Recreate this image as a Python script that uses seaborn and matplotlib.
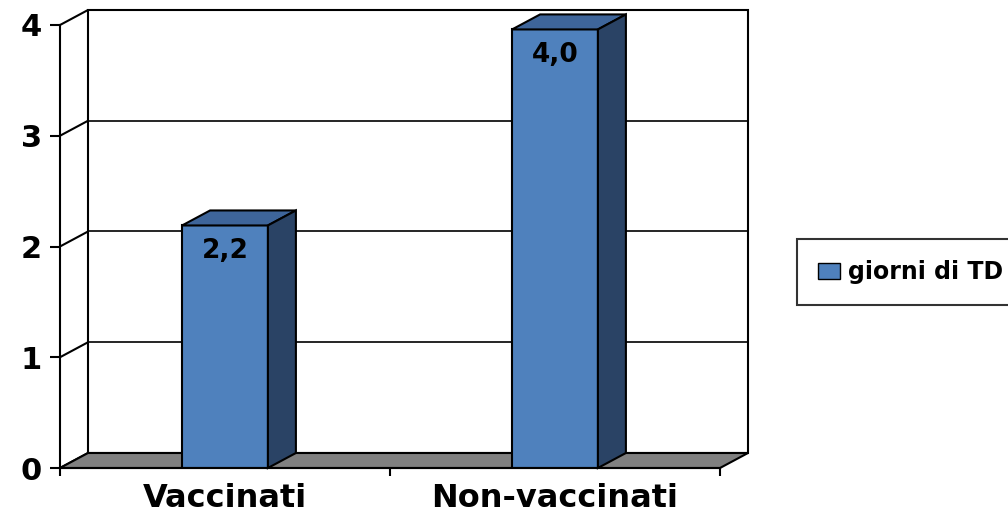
import matplotlib
matplotlib.use("Agg")
import matplotlib.pyplot as plt
from matplotlib.patches import Polygon, Rectangle, Patch
import seaborn as sns

# data
categories = ["Vaccinati", "Non-vaccinati"]
giorni_td = [2.19, 3.96]
value_labels = ["2,2", "4,0"]
y_ticks = [0, 1, 2, 3, 4]
series_name = "giorni di TD"

FRONT = "#4F81BD"
TOP = "#3E659A"
SIDE = "#2A4365"
FLOOR = "#808080"
LW = 1.5

sns.set_theme(style="white")
plt.rcParams["font.family"] = ["DejaVu Sans"]
plt.rcParams["text.color"] = "black"
plt.rcParams["xtick.labelcolor"] = "black"
plt.rcParams["ytick.labelcolor"] = "black"

fig = plt.figure(figsize=(10.08, 5.15), dpi=100)
ax = fig.add_axes([60 / 1008, 47 / 515, 660 / 1008, 443 / 515])

sns.barplot(x=categories, y=giorni_td, color=FRONT, width=0.26,
            edgecolor="black", linewidth=LW, saturation=1, ax=ax, zorder=3)
ax.set_xlim(-0.5, 1.5)
ax.set_ylim(0, 4)

# depth of the fake 3d box, in data units (28 px right, 15 px up)
DX = 28 / 330
DY = 15 / 110.75
x0, x1 = ax.get_xlim()

# back wall + gridlines
ax.add_patch(Rectangle((x0 + DX, DY), x1 - x0, 4, facecolor="white",
                       edgecolor="black", lw=LW, zorder=0.5, clip_on=False))
for v in y_ticks:
    ax.plot([x0 + DX, x1 + DX], [v + DY, v + DY], color="black", lw=LW * 0.8,
            zorder=0.6, clip_on=False)
    ax.plot([x0, x0 + DX], [v, v + DY], color="black", lw=LW,
            zorder=0.6, clip_on=False)

# floor
ax.add_patch(Polygon([(x0, 0), (x0 + DX, DY), (x1 + DX, DY), (x1, 0)],
                     closed=True, facecolor=FLOOR, edgecolor="black", lw=LW,
                     zorder=1, clip_on=False))

# top and side faces of each bar
for bar, lab in zip(ax.patches[:len(categories)], value_labels):
    bx0 = bar.get_x()
    bx1 = bx0 + bar.get_width()
    h = bar.get_height()
    ax.add_patch(Polygon([(bx0, h), (bx0 + DX, h + DY), (bx1 + DX, h + DY), (bx1, h)],
                         closed=True, facecolor=TOP, edgecolor="black", lw=LW,
                         zorder=3, clip_on=False))
    ax.add_patch(Polygon([(bx1, 0), (bx1, h), (bx1 + DX, h + DY), (bx1 + DX, DY)],
                         closed=True, facecolor=SIDE, edgecolor="black", lw=LW,
                         zorder=3, clip_on=False))
    ax.annotate(lab, (bx0 + bar.get_width() / 2, h), xytext=(0, -26),
                textcoords="offset pixels", ha="center", va="center",
                fontsize=19, fontweight="bold", color="black", zorder=4)

# axes
for side in ["top", "right"]:
    ax.spines[side].set_visible(False)
for side in ["left", "bottom"]:
    ax.spines[side].set_color("black")
    ax.spines[side].set_linewidth(LW)
    ax.spines[side].set_zorder(5)
ax.set_yticks(y_ticks)
ax.set_yticklabels([str(v) for v in y_ticks], fontsize=22, fontweight="bold")
ax.tick_params(axis="y", direction="out", length=7.2, width=LW, pad=6,
               left=True, color="black")
ax.set_xticks([0, 1])
ax.set_xticklabels(categories, fontsize=23, fontweight="bold")
ax.set_xticks([-0.5, 0.5, 1.5], minor=True)
ax.tick_params(axis="x", which="major", length=0, pad=11)
ax.tick_params(axis="x", which="minor", direction="out", length=6, width=LW,
               bottom=True, color="black")
ax.grid(False)
ax.patch.set_visible(False)

leg = fig.legend(handles=[Patch(facecolor=FRONT, edgecolor="black", lw=1)],
                 labels=[series_name], loc="center left",
                 bbox_to_anchor=(797 / 1008, 1 - 272 / 515),
                 prop={"size": 17, "weight": "bold"}, frameon=True,
                 fancybox=False, edgecolor="black", borderpad=0.9,
                 handlelength=0.9, handleheight=0.65, handletextpad=0.35,
                 borderaxespad=0)
leg.get_frame().set_linewidth(LW)

fig.savefig("out.png", dpi=100)
plt.close(fig)
